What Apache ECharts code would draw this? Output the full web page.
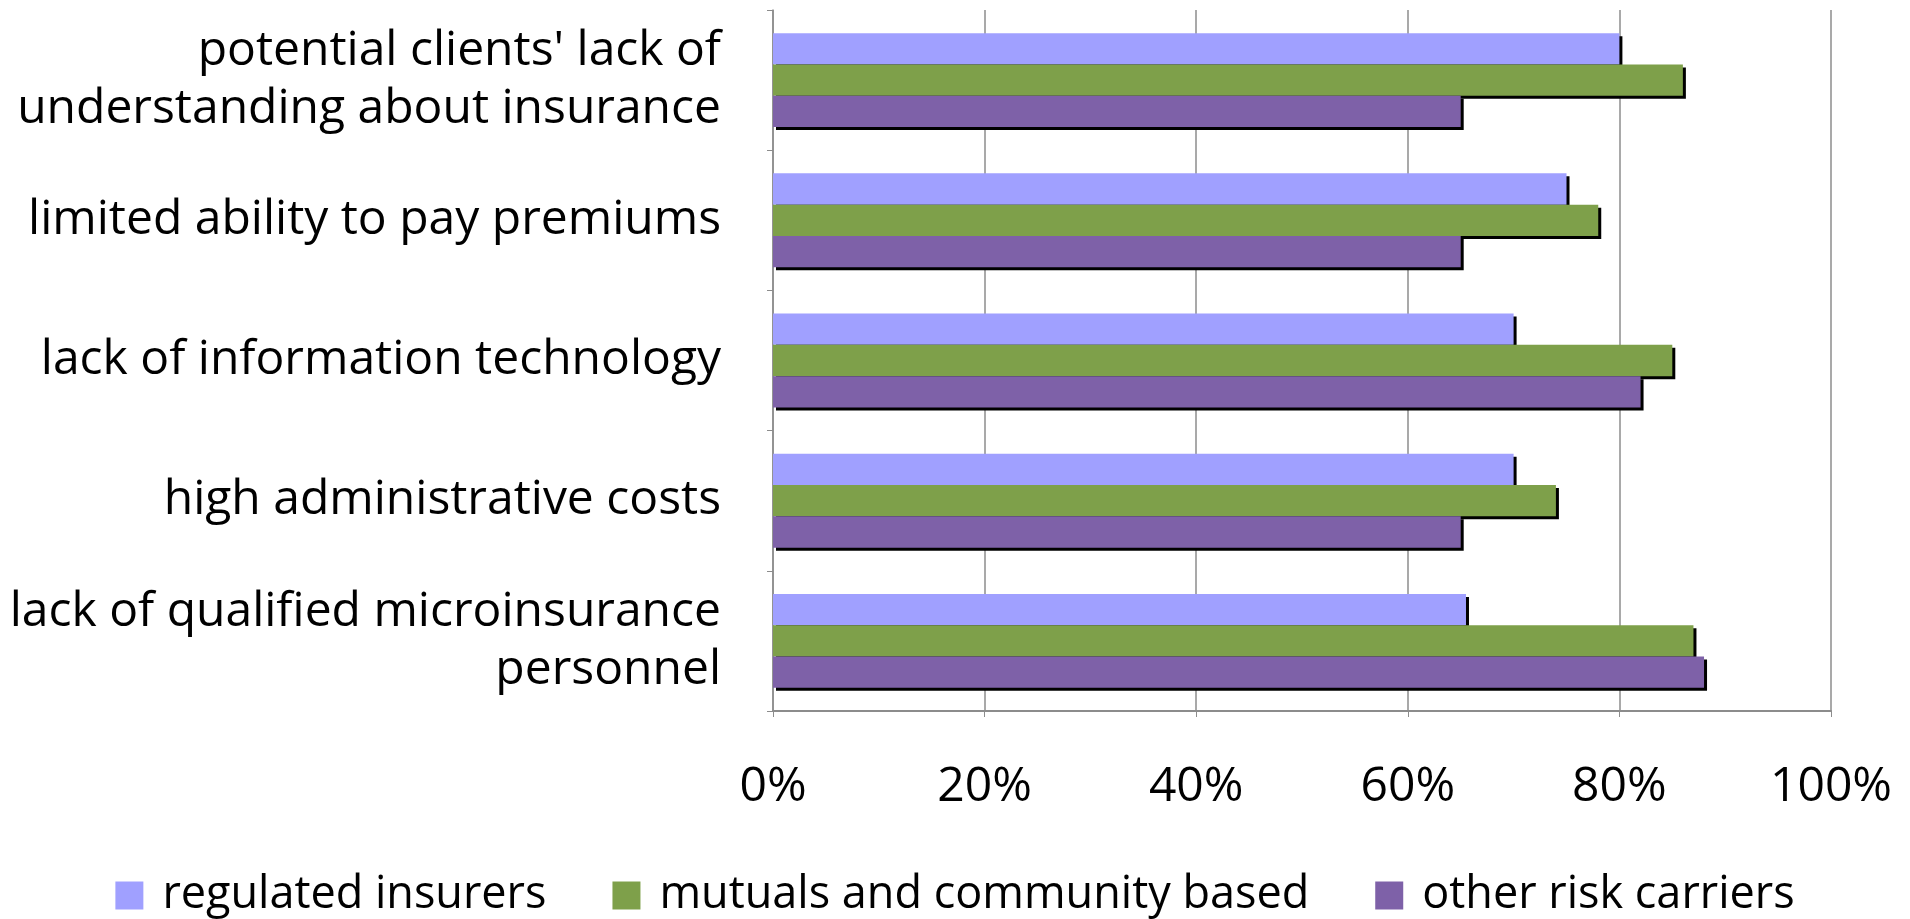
<!DOCTYPE html>
<html><head><meta charset="utf-8">
<script src="https://cdn.jsdelivr.net/npm/echarts@6/dist/echarts.min.js"></script>
<style>html,body{margin:0;padding:0;background:#fff}#c{width:1910px;height:919px}</style>
</head><body><div id="c"></div>
<script>
const categories = [
  "potential clients' lack of\nunderstanding about insurance",
  "limited ability to pay premiums",
  "lack of information technology",
  "high administrative costs",
  "lack of qualified microinsurance\npersonnel"
];
const seriesNames = ["regulated insurers", "mutuals and community based", "other risk carriers"];
const regulated = [80, 75, 70, 70, 65.5];
const mutuals = [86, 78, 85, 74, 87];
const other = [65, 65, 82, 65, 88];
const xTicks = [0, 20, 40, 60, 80, 100];
const colors = ["#A0A0FF", "#7EA04A", "#7E61A8"];
const FONT = "Open Sans";

const chart = echarts.init(document.getElementById('c'));
const values = [regulated, mutuals, other];
chart.setOption({
  animation: false,
  grid: {left: 773, right: 79, top: 10, bottom: 208, containLabel: false},
  legend: {
    bottom: -4, left: 'center',
    itemWidth: 28, itemHeight: 28, itemGap: 66,
    icon: 'rect',
    textStyle: {fontFamily: FONT, fontSize: 45, color: '#000', padding: [0, 0, 0, 14]},
    data: seriesNames
  },
  xAxis: {
    type: 'value', min: xTicks[0], max: xTicks[xTicks.length - 1], interval: 20,
    axisLine: {show: true, lineStyle: {color: '#8c8c8c', width: 2}},
    axisTick: {show: true, length: 6, lineStyle: {color: '#8c8c8c'}},
    splitLine: {show: true, lineStyle: {color: '#8c8c8c', width: 1.5}},
    axisLabel: {formatter: v => v + '%', fontFamily: FONT, fontSize: 48, color: '#000', margin: 52}
  },
  yAxis: {
    type: 'category', inverse: true, data: categories,
    axisLine: {show: true, lineStyle: {color: '#8c8c8c', width: 1.5}},
    axisTick: {show: true, length: 6, lineStyle: {color: '#8c8c8c'}},
    axisLabel: {fontFamily: FONT, fontSize: 48, color: '#000', margin: 52, align: 'right', lineHeight: 58}
  },
  series: seriesNames.map((n, i) => ({
    name: n, type: 'bar', data: values[i],
    barGap: '0%', barCategoryGap: '33%',
    itemStyle: {color: colors[i], shadowColor: '#000', shadowBlur: 0, shadowOffsetX: 3, shadowOffsetY: 3}
  }))
});
</script></body></html>
